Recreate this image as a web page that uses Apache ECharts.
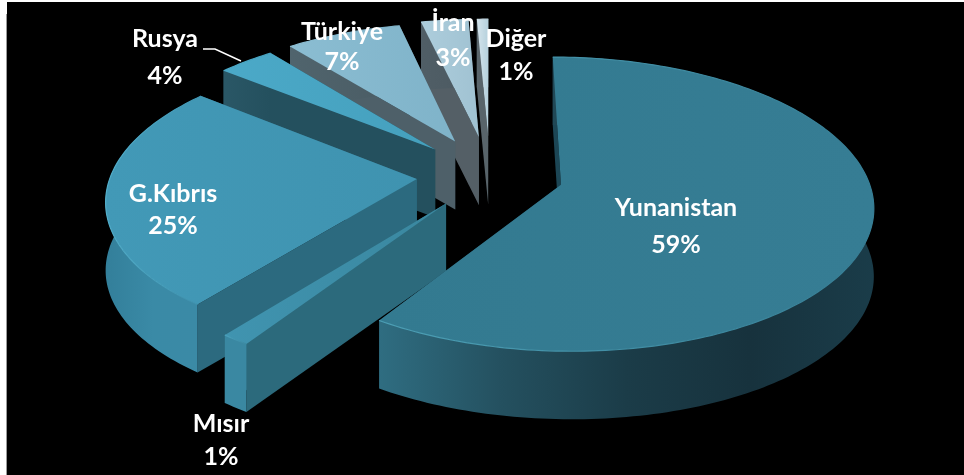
<!DOCTYPE html>
<html>
<head>
<meta charset="utf-8">
<style>
  html, body { margin: 0; padding: 0; background: #fff; }
  #chart { position: absolute; left: 7px; top: 2px; width: 957px; height: 473px; background: #000; }
  #edge { position: absolute; left: 6px; top: 14px; width: 1px; height: 461px; background: #9a9a9a; }
</style>
<script src="https://cdn.jsdelivr.net/npm/echarts@6/dist/echarts.min.js"></script>
</head>
<body>
<div id="edge"></div>
<div id="chart"></div>
<script>
  // clockwise from 12 o'clock, labels show them rounded
  const sliceNames = ['Yunanistan', 'Mısır', 'G.Kıbrıs', 'Rusya', 'Türkiye', 'İran', 'Diğer'];
  const sliceValues = [59.2, 1.3, 25.2, 3.5, 7.1, 2.9, 0.7];
  const paintOrder = [6, 5, 4, 3, 2, 1, 0];

  const sliceExplode = [0.24, 0.24, 0.24, 0.26, 0.27, 0.28, 0.28];

  const topColors = [
    ['#337a90', '#367d94'],
    ['#4094b0', '#3a879f'],
    ['#4299b7', '#3f93b0'],
    ['#4ba9c8', '#45a0bd'],
    ['#8bbdd2', '#7fb3c9'],
    ['#adcddc', '#a0c2d2'],
    ['#d4e4ec', '#b5d0dc']
  ];
  const rimColors = ['#4c9fb5', '#4ca4c0', '#52aeca', '#4ba9c8', '#8bbdd2', '#adcddc', '#d4e4ec'];
  const wallColors = [
    ['#2f6d81', '#24505f', '#1b3c48', '#17323d', '#1a3c49'],
    ['#3a88a2', '#3a88a2'],
    ['#337f9a', '#3a8aa6', '#3b8aa6'],
    ['#2a5766', '#24505e'],
    ['#50646d', '#4a5c64'],
    ['#505e66', '#4c5a62'],
    ['#5a666c', '#555f65']
  ];
  const cutColors = ['#1c4655', '#2c6a7c', '#2c6a7f', '#24505e', '#4e6069', '#545f66', '#58646a'];

  // centre of each label block and the gap between its two lines
  const labelPos = [[676, 226], [221, 440], [173, 210], [165, 57], [342, 47], [453, 40], [516, 55]];
  const labelGap = [37, 33, 32, 37, 30, 35, 33];
  const leaderLine = [[203, 49], [215, 49], [241, 61]];

  const total = sliceValues.reduce((a, b) => a + b, 0);
  const sliceAngles = [];
  let sum = 0;
  sliceValues.forEach(v => {
    sliceAngles.push([sum / total * Math.PI * 2, (sum + v) / total * Math.PI * 2]);
    sum += v;
  });

  // tilted pie settings, page pixels minus the chart's offset
  const OX = 7, OY = 2;
  const CX = 490 - OX, CY = 175 - OY, RX = 306, RY = 142, PERSP = 0.13, DEPTH = 68;

  function project(u, v, h) {
    const f = 1 / (1 - PERSP * v);
    return [CX + RX * u * f, CY + RY * v * f + (h ? DEPTH : 0)];
  }

  function grad(colors) {
    return new echarts.graphic.LinearGradient(0, 0, 1, 0, colors.map((color, k) => ({
      offset: k / (colors.length - 1),
      color
    })));
  }

  function renderSlice(params, api) {
    const i = api.value(0);
    const [a0, a1] = sliceAngles[i];
    const mid = (a0 + a1) / 2;
    const u0 = sliceExplode[i] * Math.sin(mid), v0 = -sliceExplode[i] * Math.cos(mid);

    const steps = Math.max(4, Math.ceil((a1 - a0) / 0.02));
    const arcTop = [], arcBottom = [];
    for (let k = 0; k <= steps; k++) {
      const a = a0 + (a1 - a0) * k / steps;
      const u = u0 + Math.sin(a), v = v0 - Math.cos(a);
      arcTop.push(project(u, v, false));
      arcBottom.push(project(u, v, true));
    }
    const apexTop = project(u0, v0, false), apexBottom = project(u0, v0, true);

    const poly = (points, fill) => ({
      type: 'polygon',
      shape: { points },
      style: { fill, stroke: null }
    });

    return {
      type: 'group',
      children: [
        // walls first, the top face hides whatever faces away
        poly([apexTop, arcTop[steps], arcBottom[steps], apexBottom], cutColors[i]),
        poly([apexTop, arcTop[0], arcBottom[0], apexBottom], cutColors[i]),
        poly(arcTop.concat(arcBottom.slice().reverse()), grad(wallColors[i])),
        poly([apexTop].concat(arcTop), grad(topColors[i])),
        {
          type: 'polyline',
          shape: { points: arcTop },
          style: { fill: null, stroke: grad([rimColors[i], topColors[i][1]]), lineWidth: 1.2 }
        }
      ]
    };
  }

  const labels = sliceNames.map((name, i) => ({
    type: 'text',
    x: labelPos[i][0] - OX,
    y: labelPos[i][1] - OY,
    z: 10,
    style: {
      text: name + '\n' + Math.round(sliceValues[i]) + '%',
      fill: '#fff',
      font: 'bold 25px Lato, sans-serif',
      lineHeight: labelGap[i],
      align: 'center',
      verticalAlign: 'middle'
    }
  }));

  const chart = echarts.init(document.getElementById('chart'));
  chart.setOption({
    backgroundColor: '#000',
    animation: false,
    graphic: labels.concat([{
      type: 'polyline',
      z: 10,
      shape: { points: leaderLine.map(p => [p[0] - OX, p[1] - OY]) },
      style: { fill: null, stroke: '#fff', lineWidth: 1.5 }
    }]),
    series: [{
      type: 'custom',
      coordinateSystem: 'none',
      renderItem: renderSlice,
      encode: { value: 0 },
      data: paintOrder.map(i => [i])
    }]
  });
</script>
</body>
</html>
